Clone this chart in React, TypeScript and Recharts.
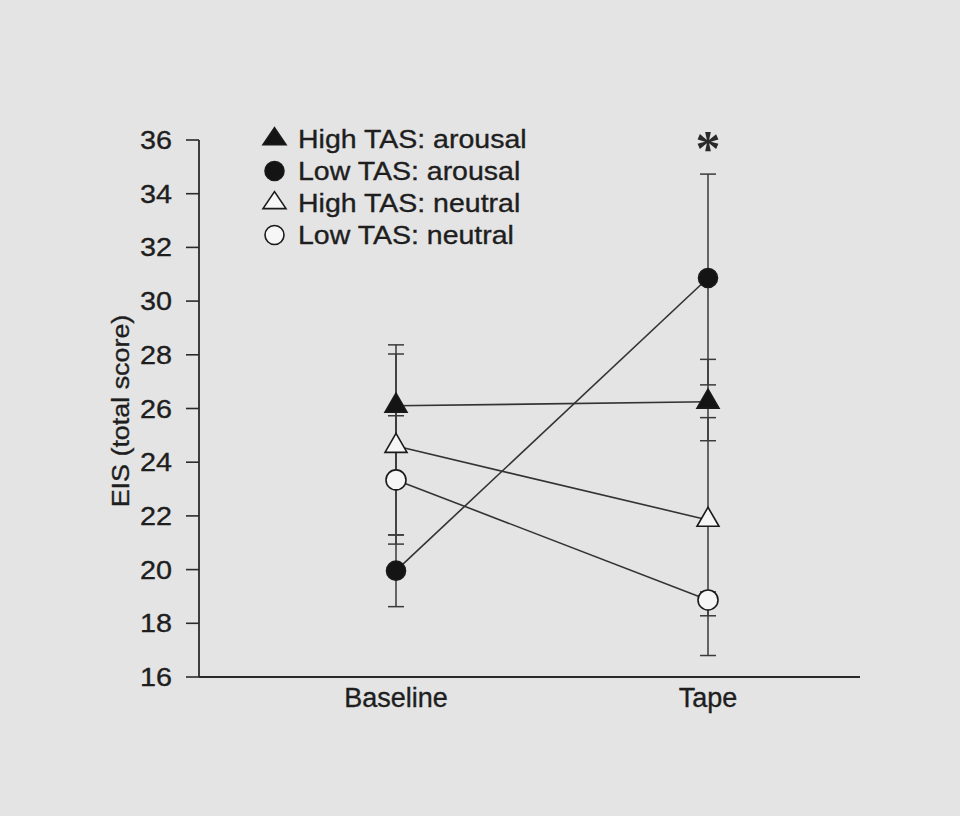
import { LineChart, Line, XAxis, YAxis, ErrorBar, Legend, ReferenceDot } from 'recharts'

const phases = ['Baseline', 'Tape']
const highArousal = [26.1, 26.25]
const lowArousal = [19.96, 30.86]
const highNeutral = [24.6, 21.85]
const lowNeutral = [23.34, 18.87]

// error per phase as [below, above]
const highArousalErr = [[2.7, 2.27], [1.45, 1.58]]
const lowArousalErr = [[1.34, 1.33], [3.98, 3.87]]
const highNeutralErr = [[3.31, 3.43], [3.57, 3.81]]
const lowNeutralErr = [[2.39, 2.39], [2.07, 0.3]]

const yTicks = [16, 18, 20, 22, 24, 26, 28, 30, 32, 34, 36]
const significant = [{ phase: 'Tape', value: 35.9 }]

const FONT = '"Liberation Sans", Arial, Helvetica, sans-serif'
const INK = '#1e1e1e'
const LINE = '#333333'

const series = [
  { key: 'highArousal', errKey: 'highArousalErr', name: 'High TAS: arousal', shape: 'triangle', filled: true },
  { key: 'lowArousal', errKey: 'lowArousalErr', name: 'Low TAS: arousal', shape: 'circle', filled: true },
  { key: 'highNeutral', errKey: 'highNeutralErr', name: 'High TAS: neutral', shape: 'triangle', filled: false },
  { key: 'lowNeutral', errKey: 'lowNeutralErr', name: 'Low TAS: neutral', shape: 'circle', filled: false },
]

const data = phases.map((phase, i) => ({
  phase,
  highArousal: highArousal[i],
  lowArousal: lowArousal[i],
  highNeutral: highNeutral[i],
  lowNeutral: lowNeutral[i],
  highArousalErr: highArousalErr[i],
  lowArousalErr: lowArousalErr[i],
  highNeutralErr: highNeutralErr[i],
  lowNeutralErr: lowNeutralErr[i],
}))

// the print uses a wide face, so plain text gets stretched along its run
function WideText({ x, y, anchor = 'start', rotate = 0, stretch = 1.15, size = 25, children }: any) {
  return (
    <text
      transform={`translate(${x} ${y}) rotate(${rotate}) scale(${stretch} 1)`}
      textAnchor={anchor}
      fontSize={size}
      fontFamily={FONT}
      fill={INK}
      stroke={INK}
      strokeWidth={0.35}
    >
      {children}
    </text>
  )
}

function Marker({ cx, cy, shape, filled, small }: any) {
  const fill = filled ? '#141414' : '#f6f6f6'
  if (shape === 'triangle') {
    const w = small ? 23 : 22
    const h = small ? 17 : 19
    return (
      <path
        d={`M${cx},${cy - (h * 2) / 3} L${cx + w / 2},${cy + h / 3} L${cx - w / 2},${cy + h / 3} Z`}
        fill={fill}
        stroke="#1a1a1a"
        strokeWidth={1.6}
      />
    )
  }
  const r = small ? 9.5 : filled ? 9.5 : 10
  return <circle cx={cx} cy={cy} r={r} fill={fill} stroke="#1a1a1a" strokeWidth={1.6} />
}

const XTick = ({ x, y, payload }: any) => (
  <text x={x} y={y + 30} textAnchor="middle" fontSize={27} fontFamily={FONT} fill={INK} stroke={INK} strokeWidth={0.35}>
    {payload.value}
  </text>
)

const YTick = ({ x, y, payload }: any) => (
  <WideText x={x} y={y + 9} anchor="end">
    {payload.value}
  </WideText>
)

const YLabel = ({ viewBox }: any) => (
  <WideText x={viewBox.x + 29} y={viewBox.y + viewBox.height / 2 + 2.5} anchor="middle" rotate={-90} size={24} stretch={1.12}>
    EIS (total score)
  </WideText>
)

const Asterisk = ({ cx, cy }: any) => (
  <text x={cx} y={cy + 22} textAnchor="middle" fontSize={50} fontFamily='"Liberation Serif", serif' fontWeight="bold" fill="#2a2a2a">
    *
  </text>
)

const renderLegend = () => (
  <svg width={300} height={130}>
    {series.map((s, i) => (
      <g key={s.key}>
        <Marker cx={19.5} cy={15 + i * 32} shape={s.shape} filled={s.filled} small />
        <WideText x={43} y={15 + i * 32 + 9} stretch={1.14}>
          {s.name}
        </WideText>
      </g>
    ))}
  </svg>
)

export default function App() {
  return (
    <div style={{ position: 'absolute', left: 0, top: 0, width: 960, height: 816, background: '#e4e4e4' }}>
      <LineChart width={960} height={816} data={data} margin={{ top: 140, right: 100, bottom: 0, left: 100 }}>
        <XAxis
          dataKey="phase"
          height={139}
          padding={{ left: 197, right: 152 }}
          tickLine={false}
          tickSize={0}
          tickMargin={0}
          axisLine={{ stroke: '#2a2a2a', strokeWidth: 1.8 }}
          tick={<XTick />}
        />
        <YAxis
          domain={[16, 36]}
          ticks={yTicks}
          interval={0}
          width={99}
          tickSize={13}
          tickMargin={14}
          axisLine={{ stroke: '#2a2a2a', strokeWidth: 1.8 }}
          tickLine={{ stroke: '#2a2a2a', strokeWidth: 1.6 }}
          tick={<YTick />}
          label={{ content: YLabel }}
        />
        {series.map(s => (
          <Line
            key={s.key}
            dataKey={s.key}
            stroke={LINE}
            strokeWidth={1.6}
            dot={false}
            activeDot={false}
            legendType="none"
            isAnimationActive={false}
          >
            <ErrorBar dataKey={s.errKey} width={8} stroke="#3a3a3a" strokeWidth={1.5} direction="y" />
          </Line>
        ))}
        {series.map(s => (
          <Line
            key={s.key + '-marks'}
            dataKey={s.key}
            stroke="none"
            activeDot={false}
            legendType="none"
            isAnimationActive={false}
            dot={(p: any) => (
              <Marker key={`${s.key}-${p.index}`} cx={p.cx} cy={p.cy} shape={s.shape} filled={s.filled} />
            )}
          />
        ))}
        {significant.map(d => (
          <ReferenceDot key={d.phase} x={d.phase} y={d.value} shape={Asterisk} />
        ))}
        <Legend
          layout="vertical"
          align="center"
          verticalAlign="middle"
          content={renderLegend}
          wrapperStyle={{ top: 124, left: 255, width: 300 }}
        />
      </LineChart>
    </div>
  )
}
